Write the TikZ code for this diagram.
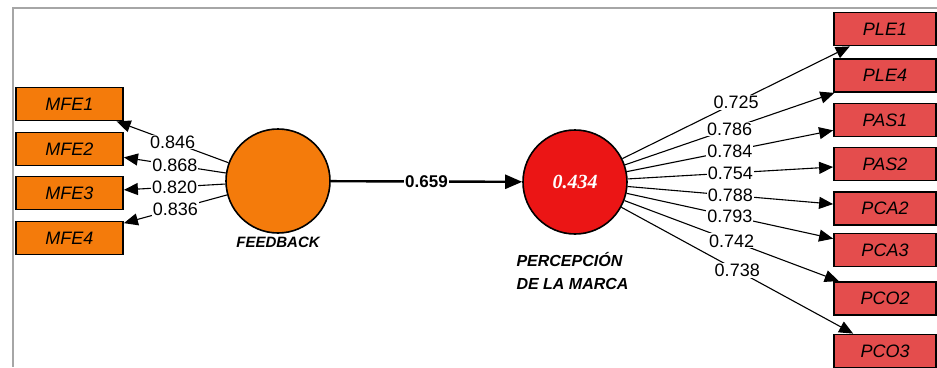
\documentclass[tikz,border=0pt]{standalone}
\usepackage{fontspec}
\setmainfont{Liberation Sans}
\newfontfamily\serifit{Liberation Serif}
\usetikzlibrary{positioning,arrows.meta}
\definecolor{FBOrange}{HTML}{F47B0B}
\definecolor{PMRed}{HTML}{EB1515}
\definecolor{IndRed}{HTML}{E44D4D}
\definecolor{FrameGray}{HTML}{A6A6A6}
\tikzset{
  latent/.style={circle, draw=black, line width=1.6pt, minimum size=104pt, inner sep=0pt},
  item/.style={draw=black, line width=1.8pt, minimum width=107pt, minimum height=33pt,
               inner sep=0pt, font=\fontsize{18}{21}\selectfont\itshape},
  itemorange/.style={item, fill=FBOrange},
  itemred/.style={item, fill=IndRed, minimum width=102pt},
  load/.style={-{Triangle[length=14pt,width=12pt]}, line width=1.1pt},
  effect/.style={-{Triangle[length=17pt,width=14pt]}, line width=2.4pt},
  coef/.style={fill=white, inner sep=1pt, font=\fontsize{18}{21}\selectfont},
  lvname/.style={font=\fontsize{15}{23}\selectfont\bfseries\itshape},
}

\begin{document}
\begin{tikzpicture}[x=1pt,y=-1pt]
  \useasboundingbox (0,0) rectangle (937,367);
  \draw[FrameGray, line width=1.5pt] (937,8) -- (13,8) -- (13,367);

  \node[latent, fill=FBOrange] (fb) at (278,181) {};
  \node[lvname] (fblab) at (278,242) {FEEDBACK};
  \node[latent, fill=PMRed, text=white,
        font=\serifit\fontsize{20}{24}\selectfont\bfseries\itshape] (pm) at (575,182) {0.434};
  \node[lvname, font=\fontsize{16}{23}\selectfont\bfseries\itshape, align=left,
        anchor=west] (pmlab) at (513,271) {PERCEPCIÓN\\DE LA MARCA};

  % indicators
  \foreach \n/\y in {1/104, 2/149, 3/193, 4/238}
    \node[itemorange] (mfe\n) at (69.5,\y) {MFE\n};
  \foreach \n/\y in {PLE1/29, PLE4/75.5, PAS1/120, PAS2/164, PCA2/208.5, PCA3/250, PCO2/298.5, PCO3/351}
    \node[itemred] (\n) at (885,\y) {\n};

  % loadings
  \foreach \n/\v in {1/0.846, 2/0.868, 3/0.820, 4/0.836}
    \draw[load] (fb) -- node[coef] {\v} (mfe\n);
  \foreach \n/\v in {PLE1/0.725, PLE4/0.786, PAS1/0.784, PAS2/0.754, PCA2/0.788, PCA3/0.793, PCO2/0.742, PCO3/0.738}
    \draw[load] (pm) -- node[coef] {\v} (\n);

  \draw[effect] (fb) -- node[coef, font=\fontsize{17}{20}\selectfont\bfseries] {0.659} (pm);
\end{tikzpicture}
\end{document}
